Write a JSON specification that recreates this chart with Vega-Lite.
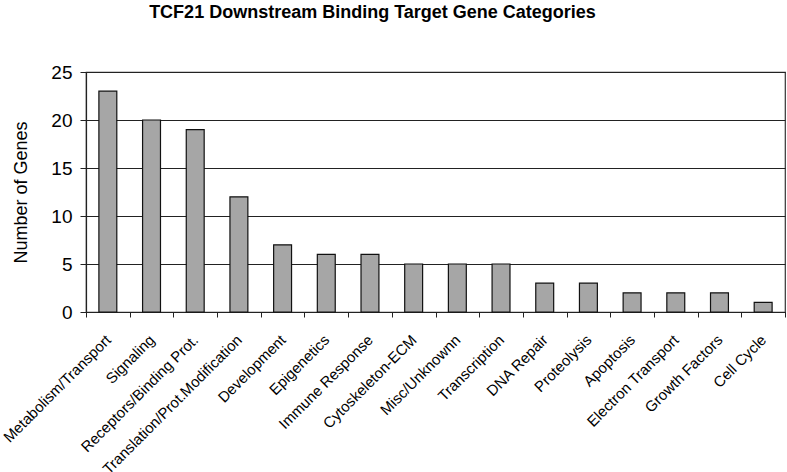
{
  "$schema": "https://vega.github.io/schema/vega-lite/v6.json",
  "width": 699,
  "height": 240,
  "autosize": {"type": "none"},
  "padding": {"left": 86, "top": 72, "right": 2, "bottom": 160},
  "background": "white",
  "title": {
    "text": "TCF21 Downstream Binding Target Gene Categories",
    "font": "Liberation Sans",
    "fontSize": 18,
    "fontWeight": "bold",
    "color": "black",
    "anchor": "middle",
    "dx": -63,
    "offset": 41
  },
  "config": {
    "font": "Liberation Sans",
    "view": {"stroke": "#333333", "strokeWidth": 1.2}
  },
  "data": {
    "values": [
      {"category": "Metabolism/Transport", "genes": 23},
      {"category": "Signaling", "genes": 20},
      {"category": "Receptors/Binding Prot.", "genes": 19},
      {"category": "Translation/Prot.Modification", "genes": 12},
      {"category": "Development", "genes": 7},
      {"category": "Epigenetics", "genes": 6},
      {"category": "Immune Response", "genes": 6},
      {"category": "Cytoskeleton-ECM", "genes": 5},
      {"category": "Misc/Unknownn", "genes": 5},
      {"category": "Transcription", "genes": 5},
      {"category": "DNA Repair", "genes": 3},
      {"category": "Proteolysis", "genes": 3},
      {"category": "Apoptosis", "genes": 2},
      {"category": "Electron Transport", "genes": 2},
      {"category": "Growth Factors", "genes": 2},
      {"category": "Cell Cycle", "genes": 1}
    ]
  },
  "mark": {
    "type": "bar",
    "width": {"band": 0.41},
    "fill": "#a6a6a6",
    "stroke": "#111111",
    "strokeWidth": 1.2
  },
  "encoding": {
    "x": {
      "field": "category",
      "type": "nominal",
      "sort": null,
      "scale": {"paddingInner": 0, "paddingOuter": 0},
      "axis": {
        "title": null,
        "tickBand": "extent",
        "labelAngle": -45,
        "labelAlign": "right",
        "labelBaseline": "middle",
        "labelFontSize": 15,
        "labelColor": "black",
        "labelPadding": 20,
        "tickSize": 5,
        "tickColor": "#222222",
        "domainColor": "#222222",
        "domainWidth": 1.2,
        "labelOverlap": false,
        "labelLimit": 0
      }
    },
    "y": {
      "field": "genes",
      "type": "quantitative",
      "scale": {"domain": [0, 25]},
      "axis": {
        "title": "Number of Genes",
        "titleFontSize": 18,
        "titleFontWeight": "normal",
        "titleColor": "black",
        "titlePadding": 20,
        "values": [0, 5, 10, 15, 20, 25],
        "labelFontSize": 19,
        "labelColor": "black",
        "labelPadding": 8,
        "tickSize": 6,
        "tickColor": "#222222",
        "domainColor": "#222222",
        "domainWidth": 1.2,
        "grid": true,
        "gridColor": "#222222",
        "gridWidth": 1.2,
        "gridOpacity": 1
      }
    }
  }
}
